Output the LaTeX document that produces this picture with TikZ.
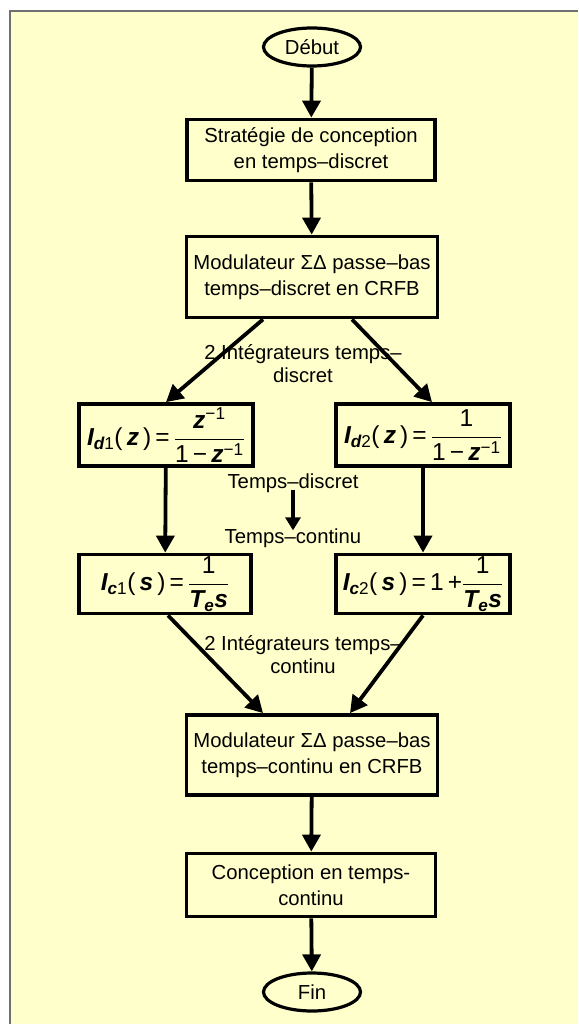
\documentclass[tikz,border=0pt]{standalone}
\usepackage{fontspec}
\usepackage{amsmath}
\setmainfont{Liberation Sans}
\usetikzlibrary{arrows.meta,shapes.geometric}
\definecolor{bgyel}{HTML}{FFFFCC}
\definecolor{framegray}{HTML}{707070}
\newcommand\txtfont{\fontsize{20.3}{26}\selectfont}
\newcommand\eqfont{\fontsize{24.5}{28}\selectfont}
\newcommand\bi[1]{\text{\bfseries\itshape #1}}
\newcommand\tx[1]{\text{#1}}
\newcommand\eqsign{\,\tx{=}\,}
\begin{document}
\begin{tikzpicture}[x=1pt,y=-1pt,
  box/.style={draw, line width=3.8pt, fill=bgyel, align=center, inner sep=2pt, font=\txtfont},
  eqbox/.style={draw, line width=3.8pt, fill=bgyel, align=center, inner sep=0pt, font=\eqfont},
  term/.style={ellipse, draw, line width=3.2pt, fill=bgyel, inner sep=0pt, minimum width=97pt, minimum height=38pt, font=\txtfont},
  flow/.style={line width=3.8pt, -{Triangle[length=17pt,width=18pt]}},
  lab/.style={align=center, font=\fontsize{20.3}{23}\selectfont, inner sep=0pt}]
\fill[white] (0,0) rectangle (578,1024);
\useasboundingbox (0,0) rectangle (578,1024);
\fill[bgyel] (10,11) rectangle (578,1024);
\draw[framegray, line width=1.5pt] (10,1024) -- (10,11) -- (578,11);

\node[term] (debut) at (312,47) {Début};
\node[box, minimum width=248pt, minimum height=61pt] (b1) at (311,150)
  {Stratégie de conception\\en temps–discret};
\node[box, minimum width=251pt, minimum height=81pt] (b2) at (312,277)
  {Modulateur ΣΔ passe–bas\\temps–discret en CRFB};
\node[eqbox, minimum width=174pt, minimum height=62pt] (id1) at (166,435)
  {$\bi{I}_{\bi{d}\tx{1}}\tx{(}\,\bi{z}\,\tx{)}\eqsign\dfrac{\bi{z}^{\tx{−1}}}{\tx{1}\,\tx{−}\,\bi{z}^{\tx{−1}}}$};
\node[eqbox, minimum width=174pt, minimum height=62pt] (id2) at (423,435)
  {$\bi{I}_{\bi{d}\tx{2}}\tx{(}\,\bi{z}\,\tx{)}\eqsign\dfrac{\tx{1}}{\tx{1}\,\tx{−}\,\bi{z}^{\tx{−1}}}$};
\node[eqbox, minimum width=172pt, minimum height=59pt] (ic1) at (165,584)
  {$\bi{I}_{\bi{c}\tx{1}}\tx{(}\,\bi{s}\,\tx{)}\eqsign\dfrac{\tx{1}}{\bi{T}_{\bi{e}}\bi{s}}$};
\node[eqbox, minimum width=174pt, minimum height=59pt] (ic2) at (423,584)
  {$\bi{I}_{\bi{c}\tx{2}}\tx{(}\,\bi{s}\,\tx{)}\eqsign\tx{1}\,\tx{+}\dfrac{\tx{1}}{\bi{T}_{\bi{e}}\bi{s}}$};
\node[box, minimum width=251pt, minimum height=80pt] (b5) at (312,755)
  {Modulateur ΣΔ passe–bas\\temps–continu en CRFB};
\node[box, minimum width=249pt, minimum height=63pt] (b6) at (311,885)
  {Conception en temps-\\continu};
\node[term] (fin) at (312,992) {Fin};

\node[lab] (lab1) at (303,364) {2 Intégrateurs temps–\\discret};
\node[lab] (tdisc) at (293,483) {Temps–discret};
\node[lab] (tcont) at (293,538) {Temps–continu};
\node[lab] (lab2) at (303,655) {2 Intégrateurs temps–\\continu};

\draw[flow] (debut) -- (b1);
\draw[flow] (b1) -- (b2);
\draw[flow] ([xshift=-49pt]b2.south) -- (id1.north);
\draw[flow] ([xshift=40pt]b2.south) -- ([xshift=9pt]id2.north);
\draw[flow] (id1) -- (ic1);
\draw[flow] (id2) -- (ic2);
\draw[flow] ([xshift=3pt]ic1.south) -- ([xshift=-49pt]b5.north);
\draw[flow] (ic2.south) -- ([xshift=38pt]b5.north);
\draw[flow] (b5) -- (b6);
\draw[flow] (b6) -- (fin);
\draw[flow, line width=3.2pt, -{Triangle[length=13pt,width=15pt]}] ([yshift=3pt]tdisc.south) -- ([yshift=-2pt]tcont.north);
\end{tikzpicture}
\end{document}
